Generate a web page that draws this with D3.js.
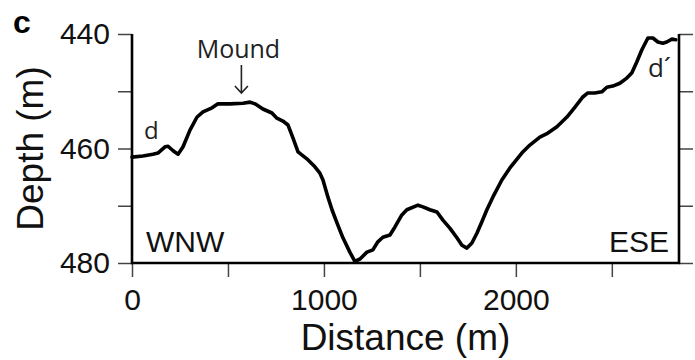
<!DOCTYPE html>
<html>
<head>
<meta charset="utf-8">
<script src="https://cdn.jsdelivr.net/npm/d3@7"></script>
<style>
  html, body { margin: 0; padding: 0; background: #fff; }
  svg { display: block; }
</style>
</head>
<body>
<svg id="chart" width="695" height="360"></svg>
<script>
// Bathymetric profile d–d′ (distance along profile vs. water depth)
const distance = [0, 57, 109, 135, 172, 188, 214, 240, 266, 302, 339, 370, 417, 448, 510, 578, 615, 641,
  682, 729, 755, 786, 813, 839, 865, 911, 953, 979, 995, 1021, 1042, 1068, 1099, 1135, 1161, 1188,
  1224, 1255, 1281, 1307, 1344, 1370, 1406, 1432, 1490, 1516, 1552, 1589, 1620, 1656, 1693, 1719,
  1745, 1771, 1797, 1823, 1849, 1880, 1927, 1969, 2031, 2073, 2125, 2167, 2214, 2266, 2307, 2349,
  2375, 2411, 2448, 2474, 2505, 2542, 2578, 2604, 2630, 2656, 2688, 2714, 2740, 2766, 2786, 2813, 2833];
const depth = [461.5, 461.3, 461.0, 460.8, 459.7, 459.6, 460.4, 461.0, 459.7, 456.8, 454.5, 453.6, 452.9,
  452.2, 452.2, 452.1, 451.9, 452.2, 453.1, 453.8, 454.7, 455.2, 455.9, 458.2, 460.6, 461.8, 463.2,
  464.3, 465.5, 468.5, 470.7, 473.0, 475.6, 478.1, 479.7, 479.3, 478.1, 477.7, 476.3, 475.5, 475.1,
  473.7, 471.6, 470.7, 469.9, 470.2, 470.7, 471.1, 472.5, 473.9, 475.6, 476.9, 477.4, 476.5, 474.8,
  472.8, 470.7, 468.5, 465.5, 463.4, 460.8, 459.4, 458.0, 457.3, 456.2, 454.5, 452.8, 451.0, 450.3,
  450.3, 450.1, 449.3, 449.1, 448.6, 447.7, 446.8, 444.9, 442.8, 440.7, 440.7, 441.4, 441.6, 441.4,
  440.9, 441.0];

const xTicks = [0, 500, 1000, 1500, 2000, 2500];
const xTickLabels = ["0", "", "1000", "", "2000", ""];
const yTicks = [440, 450, 460, 470, 480];
const yTickLabels = ["440", "", "460", "", "480"];

const mound = { label: "Mound", distance: 570 };
const endLabels = { start: "d", end: "d\u00B4" };
const directions = { west: "WNW", east: "ESE" };

const xDomain = [0, 2850];
const yDomain = [440, 480];

// Layout
const W = 695, H = 360;
const margin = { top: 34, right: 16, bottom: 97, left: 132 };
const iw = W - margin.left - margin.right;
const ih = H - margin.top - margin.bottom;

const svg = d3.select("#chart");
const g = svg.append("g").attr("transform", `translate(${margin.left},${margin.top})`);

const x = d3.scaleLinear().domain(xDomain).range([0, iw]);
const y = d3.scaleLinear().domain(yDomain).range([0, ih]);

const tickFont = "'Liberation Sans', Arial, Helvetica, sans-serif";
const labelFont = "'Open Sans', 'Noto Sans', sans-serif";

function styleAxis(sel) {
  sel.select(".domain").remove();
  sel.selectAll(".tick line").attr("stroke", "#444").attr("stroke-width", 1.5);
  sel.selectAll(".tick text")
    .attr("fill", "#111")
    .style("font-family", tickFont)
    .style("font-size", "30px");
}

// Left axis
const yAxisL = g.append("g")
  .call(d3.axisLeft(y).tickValues(yTicks).tickSize(14).tickPadding(8)
    .tickFormat((d, i) => yTickLabels[i]));
styleAxis(yAxisL);

// Right axis (ticks only)
const yAxisR = g.append("g").attr("transform", `translate(${iw},0)`)
  .call(d3.axisRight(y).tickValues(yTicks).tickSize(14).tickFormat(""));
styleAxis(yAxisR);

// Bottom axis
const xAxis = g.append("g").attr("transform", `translate(0,${ih})`)
  .call(d3.axisBottom(x).tickValues(xTicks).tickSize(14).tickPadding(12)
    .tickFormat((d, i) => xTickLabels[i]));
styleAxis(xAxis);
xAxis.selectAll(".tick text").attr("dy", "0.71em");

// Frame: left, bottom and right lines
g.append("path")
  .attr("d", `M0,0V${ih}H${iw}V0`)
  .attr("fill", "none")
  .attr("stroke", "#000")
  .attr("stroke-width", 2.6);

// Profile line
const pts = distance.map((d, i) => [d, depth[i]]);
const line = d3.line().x(d => x(d[0])).y(d => y(d[1])).curve(d3.curveLinear);
g.append("path")
  .datum(pts)
  .attr("d", line)
  .attr("fill", "none")
  .attr("stroke", "#000")
  .attr("stroke-width", 3.6)
  .attr("stroke-linejoin", "round")
  .attr("stroke-linecap", "round");

// Axis titles
svg.append("text")
  .attr("x", margin.left + iw / 2)
  .attr("y", 350)
  .attr("text-anchor", "middle")
  .attr("fill", "#111")
  .style("font-family", tickFont)
  .style("font-size", "37px")
  .text("Distance (m)");

svg.append("text")
  .attr("transform", `translate(43,${margin.top + ih / 2}) rotate(-90)`)
  .attr("text-anchor", "middle")
  .attr("fill", "#111")
  .style("font-family", tickFont)
  .style("font-size", "37px")
  .text("Depth (m)");

// Panel letter
svg.append("text")
  .attr("x", 13).attr("y", 33)
  .attr("fill", "#000")
  .style("font-family", tickFont)
  .style("font-weight", "bold")
  .style("font-size", "32px")
  .text("c");

// Mound annotation with arrow
const mx = x(mound.distance);
g.append("text")
  .attr("x", mx - 3).attr("y", 58 - margin.top)
  .attr("text-anchor", "middle")
  .attr("fill", "#222")
  .style("font-family", labelFont)
  .style("font-size", "25px")
  .text(mound.label);
g.append("path")
  .attr("d", `M${mx},${65 - margin.top}V${93 - margin.top}M${mx - 6.5},${86 - margin.top}L${mx},${93 - margin.top}L${mx + 6.5},${86 - margin.top}`)
  .attr("fill", "none")
  .attr("stroke", "#222")
  .attr("stroke-width", 1.6);

// Profile end labels
g.append("text")
  .attr("x", 144 - margin.left).attr("y", 139 - margin.top)
  .attr("fill", "#222")
  .style("font-family", labelFont)
  .style("font-size", "24px")
  .text(endLabels.start);
g.append("text")
  .attr("x", 671 - margin.left).attr("y", 77 - margin.top)
  .attr("text-anchor", "end")
  .attr("fill", "#222")
  .style("font-family", labelFont)
  .style("font-size", "26px")
  .text(endLabels.end);

// Direction labels
g.append("text")
  .attr("x", 146 - margin.left).attr("y", 252 - margin.top)
  .attr("fill", "#111")
  .style("font-family", tickFont)
  .style("font-size", "30px")
  .text(directions.west);
g.append("text")
  .attr("x", 669 - margin.left).attr("y", 252 - margin.top)
  .attr("text-anchor", "end")
  .attr("fill", "#111")
  .style("font-family", tickFont)
  .style("font-size", "30px")
  .text(directions.east);
</script>
</body>
</html>
